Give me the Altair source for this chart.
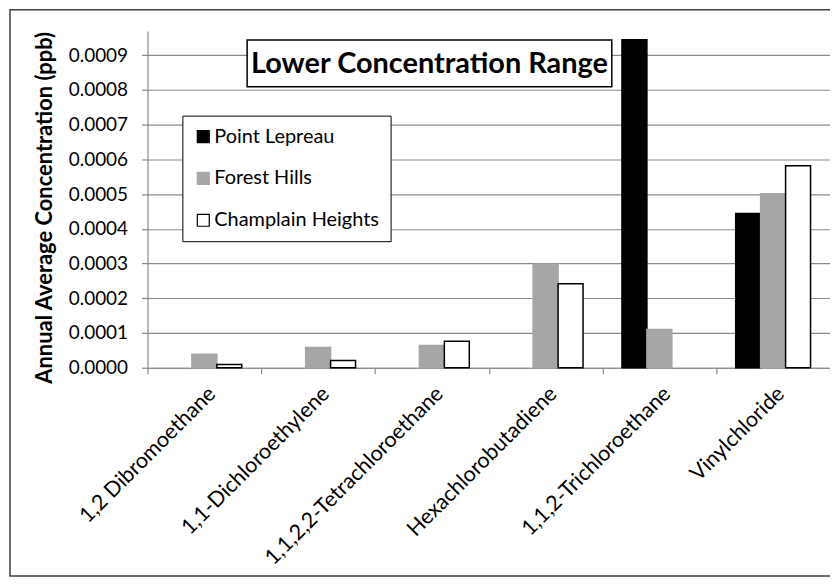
import altair as alt
import pandas as pd

categories = ["1,2 Dibromoethane", "1,1-Dichloroethylene", "1,1,2,2-Tetrachloroethane",
              "Hexachlorobutadiene", "1,1,2-Trichloroethane", "Vinylchloride"]
series = ["Point Lepreau", "Forest Hills", "Champlain Heights"]
point_lepreau = [None, None, None, None, 0.000945, 0.000444]
forest_hills = [0.0000385, 0.000058, 0.000064, 0.000298, 0.000110, 0.000501]
champlain_heights = [0.000009, 0.000021, 0.0000765, 0.000242, None, 0.000582]
y_ticks = [0.0, 0.0001, 0.0002, 0.0003, 0.0004, 0.0005, 0.0006, 0.0007, 0.0008, 0.0009]
chart_title = ["Lower Concentration Range"]

rows = []
for name, vals in zip(series, [point_lepreau, forest_hills, champlain_heights]):
    for c, v in zip(categories, vals):
        if v is not None:
            rows.append({"Compound": c, "Site": name, "Value": v})
df = pd.DataFrame(rows)
tdf = pd.DataFrame({"t": chart_title})

FONT = "Lato"
W, H = 685, 338
GRID = "#8a8a8a"

bars = alt.Chart(df).mark_bar(strokeWidth=1.5).encode(
    x=alt.X("Compound:N", sort=categories,
            scale=alt.Scale(domain=categories, paddingInner=0, paddingOuter=0),
            axis=alt.Axis(title=None, labelAngle=-45,
                          labelFontSize=21.5, labelFont=FONT, labelColor="black",
                          labelLimit=400,
                          tickBand="extent", tickSize=6, tickColor=GRID,
                          domainColor=GRID, domainWidth=1.2, tickWidth=1.2,
                          labelPadding=9, grid=False)),
    xOffset=alt.XOffset("Site:N", sort=series,
                        scale=alt.Scale(domain=series, paddingInner=0, paddingOuter=0.78)),
    y=alt.Y("Value:Q", scale=alt.Scale(domain=[0, 0.00097], nice=False, zero=True),
            axis=alt.Axis(title="Annual Average Concentration (ppb)", values=y_ticks,
                          format=".4f", labelFontSize=19, labelFont=FONT, labelColor="black",
                          titleFont=FONT, titleFontSize=22, titleFontWeight="bold",
                          titleColor="black", titleX=-103, titleY=177,
                          titleAlign="center", titleBaseline="middle",
                          tickSize=6, tickColor=GRID, tickWidth=1.2,
                          domainColor=GRID, domainWidth=1.2,
                          gridColor=GRID, gridWidth=1.2, labelPadding=14)),
    fill=alt.Fill("Site:N", sort=series,
                  scale=alt.Scale(domain=series, range=["#000000", "#A6A6A6", "#FFFFFF"]),
                  legend=alt.Legend(title=None, orient="none", legendX=35, legendY=85,
                                    strokeColor="black", fillColor="white", padding=11,
                                    symbolType="square", symbolSize=144,
                                    symbolStrokeWidth=1.2, labelLimit=400,
                                    labelFont=FONT, labelFontSize=20, labelColor="black",
                                    rowPadding=22, labelOffset=1)),
    stroke=alt.Stroke("Site:N", sort=series,
                      scale=alt.Scale(domain=series, range=["#000000", "#A6A6A6", "#000000"]),
                      legend=None),
)

frame = alt.Chart(tdf).mark_rect(fill=None, stroke="#404040", strokeWidth=1.5).encode(
    x=alt.value(-138), x2=alt.value(W + 40), y=alt.value(-21.2), y2=alt.value(H + 209)
)

title_box = alt.Chart(tdf).mark_rect(fill="white", stroke="black", strokeWidth=1.5).encode(
    x=alt.value(100), x2=alt.value(466), y=alt.value(9), y2=alt.value(56)
)
title_text = alt.Chart(tdf).mark_text(font=FONT, fontSize=29, fontWeight="bold",
                                      color="black", align="center", baseline="middle").encode(
    x=alt.value(283), y=alt.value(33), text="t:N"
)

chart = alt.layer(frame, bars, title_box, title_text).properties(
    width=W, height=H, padding={"left": 140, "top": 22, "right": 0, "bottom": 210},
    autosize="none", background="white"
).configure_view(stroke=None)

chart.save("out.html", embed_options={"renderer": "svg", "actions": False})
